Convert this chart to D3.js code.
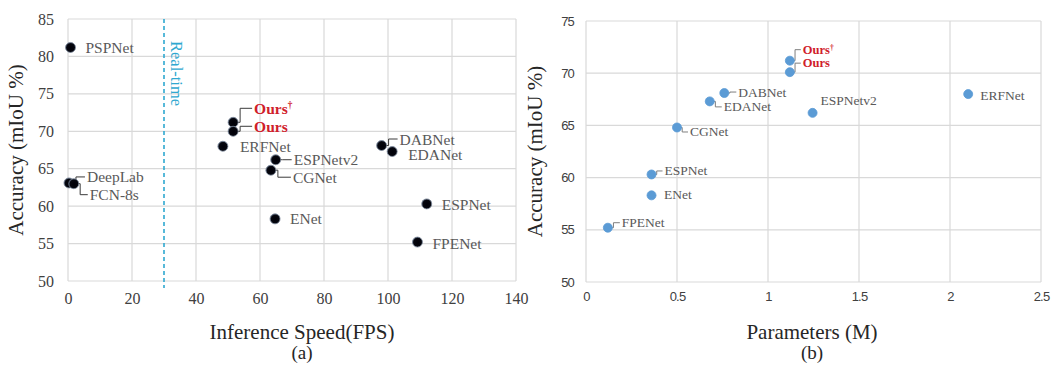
<!DOCTYPE html>
<html>
<head>
<meta charset="utf-8">
<script src="https://cdn.jsdelivr.net/npm/d3@7"></script>
<style>
  html, body { margin: 0; padding: 0; background: #fff; }
  svg { display: block; }
  .serif { font-family: "Liberation Serif", "Times New Roman", serif; }
  .sans { font-family: "Liberation Sans", Arial, sans-serif; }
</style>
</head>
<body>
<svg id="chart" width="1051" height="368"></svg>
<script>
// ---- data: (a) accuracy vs inference speed ----
const speedNames = ["PSPNet", "DeepLab", "FCN-8s", "Ours\u2020", "Ours", "ERFNet", "ESPNetv2", "CGNet", "ENet", "DABNet", "EDANet", "ESPNet", "FPENet"];
const speedFPS   = [0.78, 0.3, 1.8, 51.6, 51.6, 48.4, 64.9, 63.4, 64.7, 98.0, 101.3, 112.1, 109.2];
const speedMIoU  = [81.2, 63.1, 63.0, 71.2, 70.0, 68.0, 66.2, 64.8, 58.3, 68.1, 67.3, 60.3, 55.2];
const speedXTicks = [0, 20, 40, 60, 80, 100, 120, 140];
const speedYTicks = [50, 55, 60, 65, 70, 75, 80, 85];
const realTimeFPS = 30;

// ---- data: (b) accuracy vs parameters ----
const paramNames = ["Ours\u2020", "Ours", "ERFNet", "ESPNetv2", "DABNet", "EDANet", "CGNet", "ESPNet", "ENet", "FPENet"];
const paramM     = [1.12, 1.12, 2.10, 1.245, 0.76, 0.68, 0.50, 0.36, 0.36, 0.12];
const paramMIoU  = [71.2, 70.1, 68.0, 66.2, 68.1, 67.3, 64.8, 60.3, 58.3, 55.2];
const paramXTicks = [0, 0.5, 1, 1.5, 2, 2.5];
const paramYTicks = [50, 55, 60, 65, 70, 75];

const highlighted = new Set(["Ours\u2020", "Ours"]);

// label placement (pixel offsets from each point) and leader flag
const speedLabelPos = {
  "PSPNet": [15, 0, false], "DeepLab": [18, -6, true], "FCN-8s": [16, 11, true],
  "Ours\u2020": [21, -14, true], "Ours": [21, -5, true], "ERFNet": [17, 0, false],
  "ESPNetv2": [18, 0, true], "CGNet": [22, 7, true], "ENet": [15, 0, false],
  "DABNet": [18, -6.5, true], "EDANet": [16, 3, false], "ESPNet": [15, 1, false],
  "FPENet": [15, 1, false]
};
const paramLabelPos = {
  "Ours\u2020": [13, -11, true], "Ours": [13, -9, true], "ERFNet": [12, 1, false],
  "ESPNetv2": [8, -12, false], "DABNet": [14, -1, true], "EDANet": [14, 5.5, true],
  "CGNet": [13, 4.5, true], "ESPNet": [13, -3.5, true], "ENet": [12.5, -1, false],
  "FPENet": [14, -5, true]
};

const svg = d3.select("#chart");

// glossy black marker gradient
const defs = svg.append("defs");
const grad = defs.append("radialGradient").attr("id", "gloss").attr("cx", "55%").attr("cy", "55%").attr("r", "60%");
grad.append("stop").attr("offset", "0%").attr("stop-color", "#000008");
grad.append("stop").attr("offset", "70%").attr("stop-color", "#05060e");
grad.append("stop").attr("offset", "100%").attr("stop-color", "#4a5568");

function drawPanel(cfg) {
  const g = svg.append("g");
  const x = d3.scaleLinear().domain(cfg.xDomain).range([cfg.left, cfg.right]);
  const y = d3.scaleLinear().domain(cfg.yDomain).range([cfg.bottom, cfg.top]);

  // grid
  g.append("g").selectAll("line.h").data(cfg.yTicks).join("line")
    .attr("x1", cfg.left).attr("x2", cfg.right)
    .attr("y1", d => y(d)).attr("y2", d => y(d))
    .attr("stroke", "#d9d9d9").attr("stroke-width", 1.2);
  g.append("g").selectAll("line.v").data(cfg.xTicks).join("line")
    .attr("x1", d => x(d)).attr("x2", d => x(d))
    .attr("y1", cfg.top).attr("y2", cfg.bottom)
    .attr("stroke", "#d9d9d9").attr("stroke-width", 1.2);

  // axes (labels only, via d3 axis generators)
  const xAxis = g.append("g").attr("transform", `translate(0,${cfg.bottom})`)
    .call(d3.axisBottom(x).tickValues(cfg.xTicks).tickSize(0).tickPadding(cfg.xPad).tickFormat(d3.format("")));
  const yAxis = g.append("g").attr("transform", `translate(${cfg.left},0)`)
    .call(d3.axisLeft(y).tickValues(cfg.yTicks).tickSize(0).tickPadding(cfg.yPad));
  [xAxis, yAxis].forEach(a => {
    a.select(".domain").remove();
    a.selectAll("text").attr("class", cfg.tickClass).style("font-size", cfg.tickSize + "px")
      .attr("fill", cfg.tickColor).style("letter-spacing", cfg.tickSpacing);
  });

  // axis titles
  g.append("text").attr("class", "serif")
    .attr("transform", `translate(${cfg.yTitleX},${(cfg.top + cfg.bottom) / 2}) rotate(-90)`)
    .attr("text-anchor", "middle").attr("dominant-baseline", "middle")
    .style("font-size", "21px").attr("fill", "#262626").text("Accuracy (mIoU %)");
  g.append("text").attr("class", "serif")
    .attr("x", cfg.titleX).attr("y", 339).attr("text-anchor", "middle")
    .style("font-size", "21px").attr("fill", "#262626").text(cfg.xTitle);
  g.append("text").attr("class", "serif")
    .attr("x", cfg.titleX).attr("y", 359).attr("text-anchor", "middle")
    .style("font-size", "19px").attr("fill", "#262626").text(cfg.caption);

  if (cfg.extra) cfg.extra(g, x, y);

  const pts = cfg.names.map((n, i) => ({ name: n, px: x(cfg.xs[i]), py: y(cfg.ys[i]), pos: cfg.labelPos[n] }));

  // leader lines
  g.append("g").selectAll("path").data(pts.filter(p => p.pos[2])).join("path")
    .attr("d", p => {
      const [dx, dy] = p.pos;
      const ex = p.px + dx - 2, ey = p.py + dy;
      const mx = p.px + Math.min(7, dx * 0.4);
      return `M${p.px + 3},${p.py} H${mx} V${ey} H${ex}`;
    })
    .attr("fill", "none").attr("stroke", cfg.leaderColor).attr("stroke-width", 1);

  // markers
  g.append("g").selectAll("circle").data(pts).join("circle")
    .attr("cx", p => p.px).attr("cy", p => p.py).attr("r", cfg.r)
    .attr("fill", cfg.markerFill).attr("stroke", cfg.markerStroke).attr("stroke-width", 0.8);

  // point labels (the dagger is set as a small superscript)
  const labels = g.append("g").selectAll("text").data(pts).join("text")
    .attr("class", "serif")
    .attr("x", p => p.px + p.pos[0]).attr("y", p => p.py + p.pos[1])
    .attr("dominant-baseline", "central")
    .style("font-size", p => (highlighted.has(p.name) ? cfg.hiSize : cfg.labelSize) + "px")
    .style("font-weight", p => highlighted.has(p.name) ? "bold" : "normal")
    .attr("fill", p => highlighted.has(p.name) ? "#d0202a" : "#595959");
  labels.each(function (p) {
    const t = d3.select(this);
    if (p.name.endsWith("\u2020")) {
      t.append("tspan").text(p.name.slice(0, -1));
      t.append("tspan").attr("dy", "-0.4em").style("font-size", "0.6em").text("\u2020");
    } else {
      t.text(p.name);
    }
  });
}

// panel (a)
drawPanel({
  names: speedNames, xs: speedFPS, ys: speedMIoU, labelPos: speedLabelPos,
  xDomain: [0, 140], yDomain: [50, 85], xTicks: speedXTicks, yTicks: speedYTicks,
  left: 68, right: 516, top: 19, bottom: 281,
  xPad: 12, yPad: 14, tickClass: "serif", tickSize: 16, tickColor: "#404040", tickSpacing: "0px",
  yTitleX: 18, titleX: 302, xTitle: "Inference Speed(FPS)", caption: "(a)",
  r: 5, markerFill: "url(#gloss)", markerStroke: "#7a8699", leaderColor: "#3a3a3a",
  labelSize: 15.5, hiSize: 15.5,
  extra: (g, x, y) => {
    g.append("line")
      .attr("x1", x(realTimeFPS)).attr("x2", x(realTimeFPS))
      .attr("y1", y(85)).attr("y2", y(50) + 7)
      .attr("stroke", "#2fa8d0").attr("stroke-width", 1.6).attr("stroke-dasharray", "4,3");
    g.append("text").attr("class", "serif")
      .attr("transform", `translate(${x(realTimeFPS) + 12},${y(85) + 22}) rotate(90)`)
      .attr("text-anchor", "start").attr("dominant-baseline", "central")
      .style("font-size", "16.5px").attr("fill", "#2fa8d0").text("Real-time");
  }
});

// panel (b)
drawPanel({
  names: paramNames, xs: paramM, ys: paramMIoU, labelPos: paramLabelPos,
  xDomain: [0, 2.5], yDomain: [50, 75], xTicks: paramXTicks, yTicks: paramYTicks,
  left: 586, right: 1041, top: 21, bottom: 282,
  xPad: 10, yPad: 12, tickClass: "sans", tickSize: 13, tickColor: "#404040", tickSpacing: "-0.8px",
  yTitleX: 537, titleX: 812, xTitle: "Parameters (M)", caption: "(b)",
  r: 4.5, markerFill: "#5b9bd5", markerStroke: "#5b9bd5", leaderColor: "#7f7f7f",
  labelSize: 13.5, hiSize: 12.5
});
</script>
</body>
</html>
